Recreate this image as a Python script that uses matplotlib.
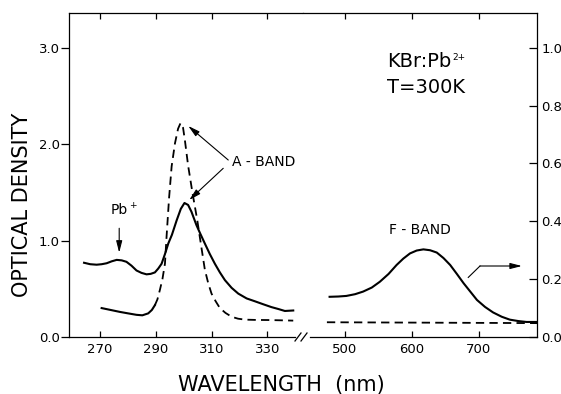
import matplotlib.pyplot as plt

plt.rcParams['font.family'] = ['DejaVu Sans']

# curva solida (UV, apos irradiacao), escala da esquerda
solid_nm = [264.3, 266.5, 268.8, 270.6, 272.4, 274.2, 276.0, 277.8, 279.5, 281.3,
            283.1, 284.9, 286.7, 288.2, 289.7, 290.9, 292.1, 293.3, 294.5, 295.8,
            297.5, 299.0, 300.3, 301.6, 302.8, 304.6, 306.0, 307.6, 309.4, 311.2,
            313.0, 314.8, 317.2, 319.6, 322.6, 325.6, 328.5, 331.5, 334.0, 336.3,
            339.3]
solid_od = [0.77, 0.755, 0.75, 0.755, 0.765, 0.785, 0.80, 0.795, 0.78, 0.74,
            0.69, 0.665, 0.65, 0.655, 0.67, 0.71, 0.76, 0.86, 0.97, 1.06,
            1.21, 1.33, 1.39, 1.37, 1.30, 1.16, 1.07, 0.97, 0.86, 0.76,
            0.67, 0.59, 0.51, 0.45, 0.40, 0.37, 0.34, 0.31, 0.29, 0.27,
            0.275]

# trecho solido inferior antes da banda A
low_nm = [270.6, 273.9, 277.2, 280.1, 283.1, 285.2, 287.3, 288.6, 289.7]
low_od = [0.30, 0.28, 0.26, 0.245, 0.23, 0.225, 0.245, 0.28, 0.33]

# curva tracejada (banda A, antes da irradiacao)
dash_nm = [289.7, 290.6, 291.5, 292.4, 293.3, 293.9, 294.8, 295.7, 296.9, 298.0,
           298.9, 299.8, 300.5, 301.6, 303.2, 304.9, 306.0, 307.6, 308.8, 310.0,
           311.5, 313.0, 315.0, 317.2, 319.5, 322.0, 326.0, 330.3, 335.0, 339.3]
dash_od = [0.33, 0.39, 0.49, 0.60, 0.76, 1.05, 1.45, 1.77, 2.01, 2.16,
           2.22, 2.17, 2.03, 1.78, 1.49, 1.21, 1.00, 0.70, 0.56, 0.45,
           0.37, 0.30, 0.25, 0.21, 0.19, 0.18, 0.177, 0.176, 0.173, 0.17]

# banda F (escala da direita)
f_nm = [477, 490, 502, 515, 527, 540, 552, 565, 577, 587, 597, 607, 617, 627,
        637, 647, 657, 667, 677, 687, 697, 709, 721, 734, 746, 759, 771, 786]
f_od = [0.139, 0.140, 0.142, 0.148, 0.157, 0.171, 0.191, 0.218, 0.249, 0.271,
        0.289, 0.299, 0.303, 0.300, 0.292, 0.273, 0.249, 0.218, 0.186, 0.157,
        0.128, 0.104, 0.085, 0.070, 0.060, 0.055, 0.052, 0.052]

rdash_nm = [473, 787]
rdash_od = [0.051, 0.048]

left_xticks = [270, 290, 310, 330]
right_xticks = [500, 600, 700]
left_yticks = [0.0, 1.0, 2.0, 3.0]
right_yticks = [0.0, 0.2, 0.4, 0.6, 0.8, 1.0]

W, H = 561, 394

def caixa(x0, x1, ytop, ybot):
    return [x0 / W, 1 - ybot / H, (x1 - x0) / W, (ybot - ytop) / H]

fig = plt.figure(figsize=(W / 100, H / 100), dpi=100)
axL = fig.add_axes(caixa(69, 303, 13, 337))
axR = fig.add_axes(caixa(303, 537, 13, 337))

axL.set_xlim(258.9, 342.8)
axL.set_ylim(0, 3.361)
axR.set_xlim(437.3, 786.6)
axR.set_ylim(0, 3.361 / 3)

lw_s = 1.5
lw_d = 1.3
tr = (0, (4.6, 2.9))

axL.plot(solid_nm, solid_od, color='black', lw=lw_s)
axL.plot(low_nm, low_od, color='black', lw=lw_s)
axL.plot(dash_nm, dash_od, color='black', lw=lw_d, linestyle=tr)
axR.plot(f_nm, f_od, color='black', lw=lw_s)
axR.plot(rdash_nm, rdash_od, color='black', lw=lw_d, linestyle=tr)

# molduras
for ax in (axL, axR):
    for s in ax.spines.values():
        s.set_linewidth(0.9)
axL.spines['right'].set_visible(False)
axR.spines['left'].set_visible(False)
axL.spines['bottom'].set_bounds(258.9, 339.9)
axR.spines['bottom'].set_bounds(447.7, 786.6)

axL.set_xticks(left_xticks)
axL.set_xticklabels([str(v) for v in left_xticks])
axL.set_yticks(left_yticks)
axL.set_yticklabels(['%.1f' % v for v in left_yticks])
axL.tick_params(axis='x', which='both', direction='in', top=True, bottom=True,
                length=4.5, width=0.9, labelsize=9.5, pad=4)
axL.tick_params(axis='y', direction='out', left=True, right=False,
                length=5.8, width=0.9, labelsize=9.5, pad=1)

axR.set_xticks(right_xticks)
axR.set_xticklabels([str(v) for v in right_xticks])
axR.set_yticks(right_yticks)
axR.set_yticklabels(['%.1f' % v for v in right_yticks])
axR.tick_params(axis='x', which='both', direction='in', top=True, bottom=True,
                length=4.5, width=0.9, labelsize=9.5, pad=4)
axR.tick_params(axis='y', direction='in', left=False, right=True,
                labelleft=False, labelright=True,
                length=5.8, width=0.9, labelsize=9.5, pad=3)

# marca de quebra do eixo
for xq in (298, 304):
    fig.add_artist(plt.Line2D([(xq - 3) / W, (xq + 3) / W],
                              [1 - 341 / H, 1 - 333 / H],
                              color='black', lw=0.9))

seta = dict(arrowstyle='-|>,head_length=0.7,head_width=0.18', color='black',
            lw=0.8, shrinkA=0, shrinkB=0)

axL.text(317.3, 1.815, 'A - BAND', fontsize=10, ha='left', va='center')
axL.annotate('', xy=(301.65, 2.189), xytext=(316.0, 1.836), arrowprops=seta)
axL.annotate('', xy=(302.0, 1.421), xytext=(314.2, 1.75), arrowprops=seta)

pb = axL.text(277.0, 1.317, 'Pb', fontsize=10, ha='center', va='center')
axL.annotate('+', xy=(1.0, 1.0), xycoords=pb, xytext=(1, -2),
             textcoords='offset points', fontsize=6.5, ha='left', va='center')
axL.annotate('', xy=(276.9, 0.875), xytext=(276.9, 1.128), arrowprops=seta)

kbr = axR.text(562.7, 0.954, 'KBr:Pb', fontsize=14, ha='left', va='center')
axR.annotate('2+', xy=(1.0, 1.0), xycoords=kbr, xytext=(1, -4),
             textcoords='offset points', fontsize=6.5, ha='left', va='center')
axR.text(562.7, 0.861, 'T=300K', fontsize=14, ha='left', va='center')
axR.text(612, 0.370, 'F - BAND', fontsize=10, ha='center', va='center')
axR.plot([684, 701.5], [0.206, 0.2455], color='black', lw=0.8)
axR.annotate('', xy=(764, 0.2455), xytext=(701.5, 0.2455), arrowprops=seta)

fig.text(22 / W, 1 - 205 / H, 'OPTICAL DENSITY', rotation=90, fontsize=15,
         ha='center', va='center')
fig.text(281 / W, 1 - 385 / H, 'WAVELENGTH  (nm)', fontsize=15,
         ha='center', va='center')

fig.savefig('out.png', dpi=100)
